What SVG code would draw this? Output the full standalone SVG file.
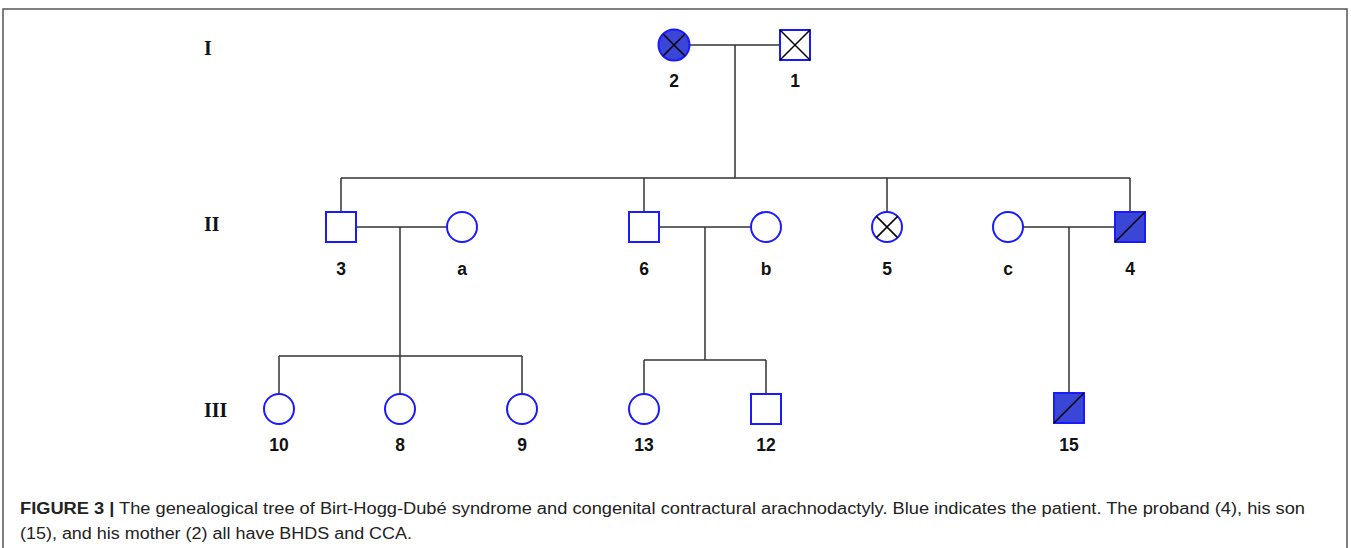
<svg xmlns="http://www.w3.org/2000/svg" width="1351" height="548" viewBox="0 0 1351 548">
<style>
.ln{stroke:#333;stroke-width:1.5;fill:none}
.nd{stroke:#1a1aff;stroke-width:2;fill:#fff}
.af{fill:#3a46d6}
.x{stroke:#000;stroke-width:1.5;fill:none}
.lb{font-family:"Liberation Sans",Arial,sans-serif;font-weight:bold;font-size:17.5px;text-anchor:middle;fill:#111}
.gen{font-family:"Liberation Serif","Times New Roman",serif;font-weight:bold;font-size:20px;fill:#111}
.cap{font-family:"Liberation Sans",Arial,sans-serif;font-size:16px;fill:#222}
</style>
<rect width="1351" height="548" fill="#fff"/>
<path d="M3,548 V9 H1347 V548" stroke="#555" stroke-width="1.5" fill="none"/>
<g id="generations">
<text class="gen" x="204" y="55">I</text>
<text class="gen" x="204" y="231">II</text>
<text class="gen" x="204" y="417">III</text>
</g>
<g id="connectors">
<path class="ln" d="M690,45 H780 M735,45 V178 M341,178 H1130 M341,178 V212 M644,178 V212 M887,178 V212 M1130,178 V212"/>
<path class="ln" d="M356,227 H447 M400,227 V356 M279,356 H522 M279,356 V394 M400,356 V394 M522,356 V394"/>
<path class="ln" d="M659,227 H751 M705,227 V360 M644,360 H766 M644,360 V394 M766,360 V394"/>
<path class="ln" d="M1023,227 H1115 M1069,227 V393"/>
</g>
<g id="n2"><circle class="nd af" cx="674" cy="45" r="15.5"/><path class="x" d="M663,34 L685,56 M685,34 L663,56"/><text class="lb" x="674" y="87">2</text></g>
<g id="n1"><rect class="nd" x="780" y="30" width="30" height="30"/><path class="x" d="M780,30 L810,60 M810,30 L780,60"/><text class="lb" x="795" y="87">1</text></g>
<g id="n3"><rect class="nd" x="326" y="212" width="30" height="30"/><text class="lb" x="341" y="275">3</text></g>
<g id="na"><circle class="nd" cx="462" cy="227" r="15"/><text class="lb" x="462" y="275">a</text></g>
<g id="n6"><rect class="nd" x="629" y="212" width="30" height="30"/><text class="lb" x="644" y="275">6</text></g>
<g id="nb"><circle class="nd" cx="766" cy="227" r="15"/><text class="lb" x="766" y="275">b</text></g>
<g id="n5"><circle class="nd" cx="887" cy="227" r="15"/><path class="x" d="M876.4,216.4 L897.6,237.6 M897.6,216.4 L876.4,237.6"/><text class="lb" x="887" y="275">5</text></g>
<g id="nc"><circle class="nd" cx="1008" cy="227" r="15"/><text class="lb" x="1008" y="275">c</text></g>
<g id="n4"><rect class="nd af" x="1115" y="212" width="30" height="30"/><path class="x" d="M1115,242 L1145,212"/><text class="lb" x="1130" y="275">4</text></g>
<g id="n10"><circle class="nd" cx="279" cy="409" r="15"/><text class="lb" x="279" y="451">10</text></g>
<g id="n8"><circle class="nd" cx="400" cy="409" r="15"/><text class="lb" x="400" y="451">8</text></g>
<g id="n9"><circle class="nd" cx="522" cy="409" r="15"/><text class="lb" x="522" y="451">9</text></g>
<g id="n13"><circle class="nd" cx="644" cy="409" r="15"/><text class="lb" x="644" y="451">13</text></g>
<g id="n12"><rect class="nd" x="751" y="394" width="30" height="30"/><text class="lb" x="766" y="451">12</text></g>
<g id="n15"><rect class="nd af" x="1054" y="393" width="30" height="30"/><path class="x" d="M1054,423 L1084,393"/><text class="lb" x="1069" y="451">15</text></g>
<g id="caption">
<text class="cap" x="20" y="514" textLength="1285" lengthAdjust="spacingAndGlyphs"><tspan font-weight="bold">FIGURE 3 |</tspan> The genealogical tree of Birt-Hogg-Dubé syndrome and congenital contractural arachnodactyly. Blue indicates the patient. The proband (4), his son</text>
<text class="cap" x="20" y="539" textLength="392" lengthAdjust="spacingAndGlyphs">(15), and his mother (2) all have BHDS and CCA.</text>
</g>
</svg>
